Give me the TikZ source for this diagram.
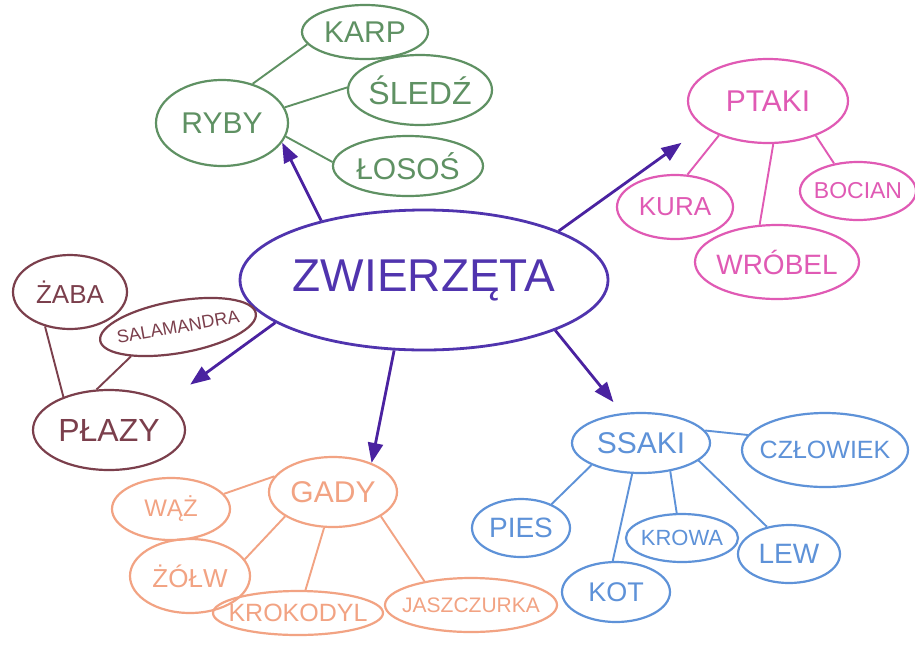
\documentclass[tikz,border=0pt]{standalone}
\usepackage{fontspec}
\setmainfont{Liberation Sans}
\usetikzlibrary{shapes.geometric,arrows.meta}
\definecolor{zwcol}{HTML}{5034AE}
\definecolor{arrowcol}{HTML}{4A22A0}
\definecolor{fishcol}{HTML}{5F9163}
\definecolor{birdcol}{HTML}{E05AB4}
\definecolor{frogcol}{HTML}{7B3F4C}
\definecolor{reptcol}{HTML}{F2A383}
\definecolor{mammcol}{HTML}{5E92D8}
\newcommand\word[1]{\makebox[0pt]{#1}}
\tikzset{
  bubble/.style={
    ellipse,
    draw,
    line width=2.2pt,
    inner sep=0pt,
  },
  dims/.style 2 args={minimum width=#1pt, minimum height=#2pt},
  txt/.style={font=\fontsize{#1}{#1}\selectfont},
  link/.style={line width=1.9pt},
  branch/.style={
    -{Triangle[length=20pt,width=15pt]},
    line width=2.8pt,
    draw=arrowcol,
  }
}

\begin{document}
\begin{tikzpicture}[x=1pt, y=-1pt]
  \useasboundingbox[fill=white] (0, 0) rectangle (915, 646);

  \node[bubble, dims={368}{140}, txt=46, draw=zwcol, text=zwcol, line width=2.8pt] (zw) at (424, 280) {\word{ZWIERZĘTA}};

  \begin{scope}[every node/.style={bubble, draw=fishcol, text=fishcol}]
    \node[dims={132}{86}, txt=30] (ryby) at (222, 123) {\word{RYBY}};
    \node[dims={126}{54}, txt=30] (karp) at (365, 32) {\word{KARP}};
    \node[dims={144}{70}, txt=32] (sledz) at (420, 90) {\word{ŚLEDŹ}};
    \node[dims={150}{60}, txt=30] (losos) at (408, 166) {\word{ŁOSOŚ}};
  \end{scope}

  \begin{scope}[every node/.style={bubble, draw=birdcol, text=birdcol}]
    \node[dims={160}{84}, txt=30] (ptaki) at (768, 101) {\word{PTAKI}};
    \node[dims={116}{64}, txt=26] (kura) at (675, 207) {\word{KURA}};
    \node[dims={116}{58}, txt=23] (bocian) at (858, 191) {\word{BOCIAN}};
    \node[dims={164}{74}, txt=28] (wrobel) at (777, 262) {\word{WRÓBEL}};
  \end{scope}

  \begin{scope}[every node/.style={bubble, draw=frogcol, text=frogcol}]
    \node[dims={152}{80}, txt=32] (plazy) at (109, 430) {\word{PŁAZY}};
    \node[dims={114}{74}, txt=26] (zaba) at (70, 292) {\word{ŻABA}};
    \node[dims={158}{52}, txt=18, rotate=10] (salamandra) at (178, 327) {\word{SALAMANDRA}};
  \end{scope}

  \begin{scope}[every node/.style={bubble, draw=reptcol, text=reptcol}]
    \node[dims={128}{70}, txt=30] (gady) at (333, 492) {\word{GADY}};
    \node[dims={118}{62}, txt=24] (waz) at (171, 509) {\word{WĄŻ}};
    \node[dims={120}{74}, txt=26] (zolw) at (190, 576) {\word{ŻÓŁW}};
    \node[dims={170}{44}, txt=25] (krokodyl) at (298, 613) {\word{KROKODYL}};
    \node[dims={172}{54}, txt=21] (jaszczurka) at (471, 605) {\word{JASZCZURKA}};
  \end{scope}

  \begin{scope}[every node/.style={bubble, draw=mammcol, text=mammcol}]
    \node[dims={138}{60}, txt=30] (ssaki) at (641, 443) {\word{SSAKI}};
    \node[dims={166}{74}, txt=25] (czlowiek) at (825, 450) {\word{CZŁOWIEK}};
    \node[dims={98}{58}, txt=28] (pies) at (521, 528) {\word{PIES}};
    \node[dims={112}{48}, txt=22] (krowa) at (682, 538) {\word{KROWA}};
    \node[dims={102}{58}, txt=28] (lew) at (789, 554) {\word{LEW}};
    \node[dims={108}{60}, txt=27] (kot) at (616, 592) {\word{KOT}};
  \end{scope}

  \foreach \s/\t in {ryby.52/karp.192, ryby.14/sledz.178, ryby.-12/losos.177}
    \draw[link, fishcol] (\s) -- (\t);
  \foreach \s/\t in {ptaki.215/kura.69, ptaki.277/wrobel.115, ptaki.324/bocian.131}
    \draw[link, birdcol] (\s) -- (\t);
  \foreach \s/\t in {zaba.234/plazy.144, salamandra.202/plazy.107}
    \draw[link, frogcol] (\s) -- (\t);
  \foreach \s/\t in {gady.165/waz.16, gady.207/zolw.17, gady.256/krokodyl.72, gady.333/jaszczurka.153}
    \draw[link, reptcol] (\s) -- (\t);
  \foreach \s/\t in {ssaki.11/czlowiek.169, ssaki.204/pies.38, ssaki.254/kot.96, ssaki.316/krowa.102, ssaki.343/lew.129}
    \draw[link, mammcol] (\s) -- (\t);

  \draw[branch] (zw.150) -- (ryby.-18);
  \draw[branch, shorten >=27pt] (zw.20) -- (ptaki.202);
  \draw[branch, shorten >=30pt] (zw.196) -- (plazy.26);
  \draw[branch] (zw.247) -- (gady.37);
  \draw[branch, shorten >=14pt] (zw.-21) -- (ssaki.122);

\end{tikzpicture}
\end{document}
